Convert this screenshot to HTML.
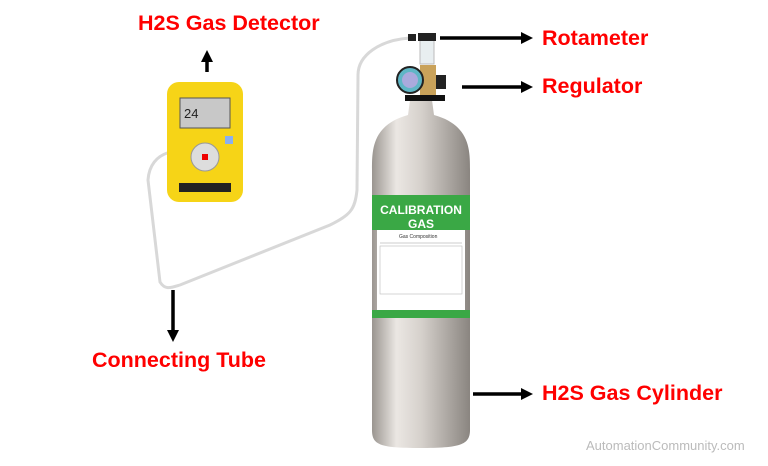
<!DOCTYPE html>
<html><head><style>
body{margin:0;width:768px;height:466px;background:#fff;overflow:hidden;position:relative;font-family:"Liberation Sans",sans-serif}
.t{position:absolute;color:#f00;font-weight:bold;font-size:21.5px;white-space:nowrap}
</style></head><body>
<svg width="768" height="466" style="position:absolute;left:0;top:0">
<defs>
<linearGradient id="al" x1="0" x2="1"><stop offset="0" stop-color="#9a9590"/><stop offset=".25" stop-color="#ebe7e3"/><stop offset=".5" stop-color="#d6d1cc"/><stop offset="1" stop-color="#8a8580"/></linearGradient>
<marker id="ah" markerWidth="12" markerHeight="12" refX="6" refY="6" orient="auto" markerUnits="userSpaceOnUse"><path d="M0,0L12,6L0,12z" fill="#000"/></marker>
</defs>
<path d="M205,157 C180,145 150,150 148,180 L160,282 C165,290 170,288 180,285 L330,225 C350,215 355,210 357,190 L358,75 C358,55 380,40 410,38" fill="none" stroke="#d8d8d8" stroke-width="3"/>
<path d="M410,100 L432,100 L434,115 C470,125 470,150 470,170 L470,430 C470,445 460,448 420,448 C380,448 372,445 372,430 L372,170 C372,150 372,125 408,115 Z" fill="url(#al)"/>
<rect x="372" y="195" width="98" height="35" fill="#3aa845"/>
<rect x="377" y="230" width="88" height="80" fill="#fff"/>
<rect x="372" y="310" width="98" height="8" fill="#3aa845"/>
<text x="421" y="214" font-size="12" font-weight="bold" fill="#fff" text-anchor="middle" font-family="Liberation Sans">CALIBRATION</text>
<text x="421" y="228" font-size="12" font-weight="bold" fill="#fff" text-anchor="middle" font-family="Liberation Sans">GAS</text>
<text x="399" y="238" font-size="5" fill="#333" font-family="Liberation Sans">Gas Composition</text>
<line x1="380" y1="243" x2="462" y2="243" stroke="#999" stroke-width=".6"/>
<rect x="380" y="246" width="82" height="48" fill="none" stroke="#bbb" stroke-width=".6"/>
<rect x="405" y="95" width="40" height="6" fill="#111"/>
<rect x="420" y="65" width="16" height="30" fill="#c9a25a"/>
<circle cx="410" cy="80" r="13" fill="#5fb6c6" stroke="#222" stroke-width="2"/>
<circle cx="410" cy="80" r="8" fill="#aad" />
<rect x="436" y="75" width="10" height="14" fill="#222"/>
<rect x="420" y="36" width="14" height="28" fill="#e8eef0" stroke="#bbb"/>
<rect x="418" y="33" width="18" height="8" fill="#222"/>
<rect x="408" y="34" width="8" height="7" fill="#222"/>
<rect x="167" y="82" width="76" height="120" rx="12" fill="#f6d417"/>
<rect x="180" y="98" width="50" height="30" fill="#c8c8c8" stroke="#555"/>
<text x="184" y="118" font-size="13" fill="#222" font-family="Liberation Sans">24</text>
<circle cx="205" cy="157" r="14" fill="#ddd" stroke="#999"/>
<rect x="202" y="154" width="6" height="6" fill="#e00"/>
<rect x="179" y="183" width="52" height="9" fill="#222"/>
<rect x="225" y="136" width="8" height="8" fill="#8ab0f0"/>
<g stroke="#000" stroke-width="3.5" marker-end="url(#ah)">
<line x1="207" y1="72" x2="207" y2="56"/>
<line x1="440" y1="38" x2="527" y2="38"/>
<line x1="462" y1="87" x2="527" y2="87"/>
<line x1="173" y1="290" x2="173" y2="336"/>
<line x1="473" y1="394" x2="527" y2="394"/>
</g>
</svg>
<div class="t" style="left:138px;top:11px">H2S Gas Detector</div>
<div class="t" style="left:542px;top:26px">Rotameter</div>
<div class="t" style="left:542px;top:74px">Regulator</div>
<div class="t" style="left:92px;top:348px">Connecting Tube</div>
<div class="t" style="left:542px;top:381px">H2S Gas Cylinder</div>
<div style="position:absolute;left:586px;top:438px;color:#bbb;font-size:13px">AutomationCommunity.com</div>
</body></html>
